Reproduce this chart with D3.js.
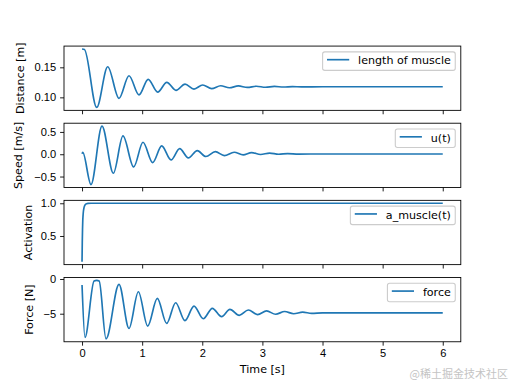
<!DOCTYPE html>
<html>
<head>
<meta charset="utf-8">
<script src="https://cdn.jsdelivr.net/npm/d3@7"></script>
<style>
  body { margin: 0; background: #fff; }
  svg { display: block; font-family: "DejaVu Sans", sans-serif; }
  .tick text { font-size: 11.1px; fill: #000; }
  .tick line { stroke: #000; stroke-width: 0.89; }
  .domain { display: none; }
</style>
</head>
<body>
<div id="chart-area"></div>
<script>
// values
const distT = [0, 0.04, 0.244, 0.427, 0.615, 0.781, 0.947, 1.1, 1.258, 1.41, 1.563, 1.713, 1.862, 2.007, 2.156, 2.306, 2.45, 2.6, 2.75, 2.9, 3.05, 3.2, 3.35, 3.5, 3.65, 4.0, 6.0];
const distV = [0.1805, 0.1798, 0.0832, 0.151, 0.0983, 0.136, 0.104, 0.13, 0.1088, 0.125, 0.1117, 0.122, 0.1138, 0.1205, 0.1145, 0.1193, 0.116, 0.119, 0.1165, 0.1185, 0.1168, 0.1182, 0.1172, 0.1179, 0.1174, 0.1176, 0.1176];

const speedT = [0, 0.012, 0.149, 0.332, 0.521, 0.681, 0.859, 1.014, 1.175, 1.325, 1.48, 1.624, 1.768, 1.917, 2.06, 2.217, 2.367, 2.53, 2.68, 2.82, 2.97, 3.12, 3.27, 3.42, 3.6, 4.0, 6.0];
const speedV = [0.01, 0.04, -0.68, 0.63, -0.426, 0.41, -0.285, 0.269, -0.188, 0.186, -0.128, 0.126, -0.083, 0.081, -0.05, 0.058, -0.03, 0.045, -0.015, 0.036, -0.005, 0.025, 0.0, 0.015, 0.003, 0.006, 0.006];

const actT = [0, 0.004, 0.008, 0.012, 0.016, 0.022, 0.03, 0.04, 0.055, 0.075, 0.1, 0.15, 6.0];
const actV = [0.107, 0.4, 0.6, 0.73, 0.8, 0.87, 0.92, 0.955, 0.98, 0.993, 0.998, 1.0, 1.0];

const forceT = [0, 0.049, 0.2, 0.244, 0.285, 0.399, 0.615, 0.781, 0.937, 1.092, 1.252, 1.408, 1.557, 1.712, 1.862, 2.017, 2.167, 2.322, 2.46, 2.615, 2.766, 2.92, 3.07, 3.22, 3.37, 3.52, 3.67, 3.82, 4.0, 6.0];
const forceV = [-0.87, -8.41, -0.3, -0.2, -0.3, -8.62, -0.77, -7.12, -1.83, -6.78, -2.79, -6.4, -3.42, -6.0, -3.9, -5.72, -4.23, -5.43, -4.38, -5.24, -4.47, -5.12, -4.6, -5.08, -4.68, -5.0, -4.78, -4.95, -4.88, -4.88];

const xTicks = [0, 1, 2, 3, 4, 5, 6];
const yLabels = ["Distance [m]", "Speed [m/s]", "Activation", "Force [N]"];
const legendNames = ["length of muscle", "u(t)", "a_muscle(t)", "force"];
const yTicks = [[0.10, 0.15], [-0.5, 0.0, 0.5], [0.5, 1.0], [-5, 0]];
const yDigits = [2, 1, 1, 0];

const chartSize = { width: 512, height: 384 };
const margin = { left: 64, right: 51.2, top: 46.08, bottom: 42.24 };
const width = chartSize.width - margin.left - margin.right;
const plotH = chartSize.height - margin.top - margin.bottom;
const panelH = plotH / 4.6;
const gap = panelH * 0.2;
const fs = 11.1;
const blue = "#1f77b4";

const fmt = (v, d) => {
  const s = Math.abs(v).toFixed(d);
  return v < 0 ? "\u2212" + s : s;
};

const main = function() {
  const series = [
    { t: distT, v: distV },
    { t: speedT, v: speedV },
    { t: actT, v: actV },
    { t: forceT, v: forceV }
  ];

  const svg = d3
    .select("#chart-area")
    .append("svg")
    .attr("width", chartSize.width)
    .attr("height", chartSize.height);

  const x = d3.scaleLinear().domain([-0.3, 6.3]).range([0, width]);

  const measure = svg.append("text").attr("font-size", fs);
  const textW = s => {
    measure.text(s);
    return measure.node().getComputedTextLength();
  };

  series.forEach((s, i) => {
    const top = margin.top + i * (panelH + gap);
    const lo = d3.min(s.v), hi = d3.max(s.v);
    const pad = (hi - lo) * 0.05;
    const y = d3.scaleLinear().domain([lo - pad, hi + pad]).range([panelH, 0]);

    const g = svg.append("g").attr("transform", `translate(${margin.left},${top})`);

    const xAxis = d3.axisBottom(x).tickValues(xTicks).tickSize(3.9).tickPadding(3.9)
      .tickFormat(i === 3 ? d => d : () => "");
    g.append("g").attr("transform", `translate(0,${panelH})`).call(xAxis);

    const yAxis = d3.axisLeft(y).tickValues(yTicks[i]).tickSize(3.9).tickPadding(3.9)
      .tickFormat(d => fmt(d, yDigits[i]));
    g.append("g").call(yAxis);

    const line = d3.line()
      .x((d, k) => x(s.t[k]))
      .y(d => y(d))
      .curve(d3.curveMonotoneX);

    g.append("path")
      .attr("d", line(s.v))
      .attr("fill", "none")
      .attr("stroke", blue)
      .attr("stroke-width", 1.67);

    g.append("rect")
      .attr("width", width)
      .attr("height", panelH)
      .attr("fill", "none")
      .attr("stroke", "#000")
      .attr("stroke-width", 0.89);

    // y label
    const maxW = d3.max(yTicks[i], d => textW(fmt(d, yDigits[i])));
    const lx = -3.9 - 3.9 - maxW - 4.4 - 2.6;
    g.append("text")
      .attr("transform", `translate(${lx},${panelH / 2}) rotate(-90)`)
      .attr("text-anchor", "middle")
      .attr("font-size", fs)
      .text(yLabels[i]);

    // legend
    const tw = textW(legendNames[i]);
    const lw = 4.4 + 22.2 + 8.9 + tw + 4.4;
    const lg = g.append("g").attr("transform", `translate(${width - 5.55 - lw},5.8)`);
    lg.append("rect")
      .attr("width", lw)
      .attr("height", 18.5)
      .attr("rx", 2.2)
      .attr("fill", "#fff")
      .attr("fill-opacity", 0.8)
      .attr("stroke", "#cccccc")
      .attr("stroke-width", 1.1);
    lg.append("line")
      .attr("x1", 4.4).attr("x2", 26.6)
      .attr("y1", 7.8).attr("y2", 7.8)
      .attr("stroke", blue)
      .attr("stroke-width", 1.67);
    lg.append("text")
      .attr("x", 35.5)
      .attr("y", 12.6)
      .attr("font-size", fs)
      .text(legendNames[i]);
  });

  measure.remove();

  svg.append("text")
    .attr("x", margin.left + width / 2)
    .attr("y", 373)
    .attr("text-anchor", "middle")
    .attr("font-size", fs)
    .text("Time [s]");

  svg.append("text")
    .attr("x", 508)
    .attr("y", 378)
    .attr("text-anchor", "end")
    .attr("font-size", 11)
    .attr("font-family", "Noto Sans CJK SC")
    .attr("fill", "#c4c4c4")
    .text("@稀土掘金技术社区");
};

window.onload = main;
</script>
</body>
</html>
